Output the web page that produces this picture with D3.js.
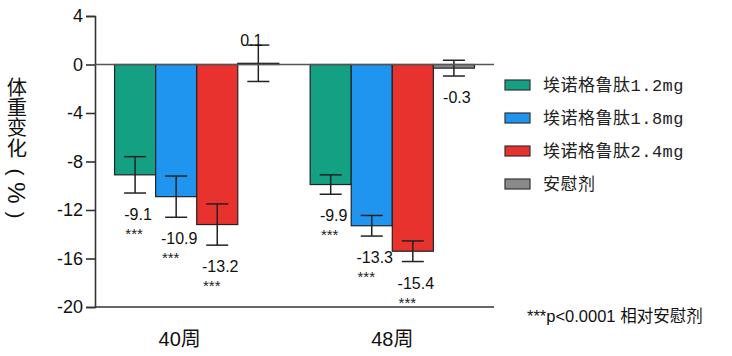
<!DOCTYPE html>
<html>
<head>
<meta charset="utf-8">
<script src="https://cdn.jsdelivr.net/npm/d3@7"></script>
<style>
  body { margin: 0; background: #fff; }
  svg { display: block; }
</style>
</head>
<body>
<div id="chart"></div>
<script>
// data
let weeks = ["40周", "48周"];
let series = ["埃诺格鲁肽1.2mg", "埃诺格鲁肽1.8mg", "埃诺格鲁肽2.4mg", "安慰剂"];
let values = [
    [-9.1, -10.9, -13.2, 0.1],
    [-9.9, -13.3, -15.4, -0.3]
];
let errors = [
    [1.5, 1.7, 1.7, 1.5],
    [0.8, 0.85, 0.85, 0.65]
];
let stars = [
    ["***", "***", "***", ""],
    ["***", "***", "***", ""]
];
let yTicks = [4, 0, -4, -8, -12, -16, -20];

let palette = ["#14a083", "#1f95ef", "#e8322e", "#8a8a8a"];

// hyphen instead of d3's unicode minus
let fmt1 = v => v.toFixed(1);
let fmt0 = v => String(v);

function main() {
    let w = 732, h = 356;
    let svg = d3.select("#chart").append("svg")
        .attr("width", w)
        .attr("height", h);

    let x0 = d3.scaleBand().domain(weeks).range([95, 494])
        .paddingInner(0.16).paddingOuter(0.1);
    let x1 = d3.scaleBand().domain(series).range([0, x0.bandwidth()]).padding(0);
    let y = d3.scaleLinear().domain([-20, 4]).range([307, 16]);

    let numFont = "'Liberation Sans', Arial, sans-serif";
    let cjkFont = "'Noto Sans CJK SC', sans-serif";

    // y axis
    let yAxis = svg.append("g")
        .attr("transform", "translate(95,0)")
        .call(d3.axisLeft(y).tickValues(yTicks).tickSize(9).tickPadding(3).tickFormat(fmt0));
    yAxis.select(".domain").attr("stroke", "#333").attr("stroke-width", 1.6);
    yAxis.selectAll(".tick line").attr("stroke", "#333").attr("stroke-width", 1.6);
    yAxis.selectAll(".tick text")
        .attr("font-family", numFont)
        .attr("font-size", 18)
        .attr("fill", "#111");

    // bottom axis line
    svg.append("line")
        .attr("x1", 95).attr("x2", 494)
        .attr("y1", y(-20)).attr("y2", y(-20))
        .attr("stroke", "#333").attr("stroke-width", 1.6);

    // week labels (the first one sits a bit left of its group in the original)
    let weekShift = [-17, 0];
    svg.selectAll("text.week")
        .data(weeks)
        .enter().append("text")
        .attr("class", "week")
        .attr("x", (d, i) => x0(d) + x0.bandwidth() / 2 + weekShift[i])
        .attr("y", 346)
        .attr("text-anchor", "middle")
        .attr("font-family", numFont + ", " + cjkFont)
        .attr("font-size", 20)
        .attr("fill", "#111")
        .text(d => d);

    // bars
    let rows = [];
    weeks.forEach((wk, i) => series.forEach((s, j) => rows.push({
        week: wk, s: s, j: j, v: values[i][j], e: errors[i][j], star: stars[i][j]
    })));

    let groups = svg.selectAll("g.bar")
        .data(rows)
        .enter().append("g")
        .attr("class", "bar")
        .attr("transform", d => `translate(${x0(d.week) + x1(d.s)},0)`);

    groups.append("rect")
        .attr("x", 0)
        .attr("width", x1.bandwidth())
        .attr("y", d => Math.min(y(d.v), y(0)))
        .attr("height", d => Math.max(Math.abs(y(d.v) - y(0)), 1))
        .attr("fill", d => palette[d.j])
        .attr("stroke", "#222")
        .attr("stroke-width", 1.2);

    // zero line
    svg.append("line")
        .attr("x1", 95).attr("x2", 494)
        .attr("y1", y(0)).attr("y2", y(0))
        .attr("stroke", "#555").attr("stroke-width", 1.4);

    // error bars
    let bw = x1.bandwidth();
    let cap = 11;
    groups.append("line")
        .attr("x1", bw / 2).attr("x2", bw / 2)
        .attr("y1", d => y(d.v + d.e)).attr("y2", d => y(d.v - d.e))
        .attr("stroke", "#222").attr("stroke-width", 1.5);
    groups.append("line")
        .attr("x1", bw / 2 - cap).attr("x2", bw / 2 + cap)
        .attr("y1", d => y(d.v + d.e)).attr("y2", d => y(d.v + d.e))
        .attr("stroke", "#222").attr("stroke-width", 1.5);
    groups.append("line")
        .attr("x1", bw / 2 - cap).attr("x2", bw / 2 + cap)
        .attr("y1", d => y(d.v - d.e)).attr("y2", d => y(d.v - d.e))
        .attr("stroke", "#222").attr("stroke-width", 1.5);

    // value labels
    let labels = groups.append("text")
        .attr("x", d => d.v > 0 ? bw / 2 - 7 : bw / 2 + 3)
        .attr("y", d => d.v > 0 ? y(d.v + d.e) + 1 : y(d.v - d.e) + 27)
        .attr("text-anchor", "middle")
        .attr("font-family", numFont)
        .attr("font-size", 16)
        .attr("fill", "#111")
        .text(d => fmt1(d.v));

    labels.each(function(d) {
        if (!d.star) return;
        let tw = this.getComputedTextLength();
        d3.select(this.parentNode).append("text")
            .attr("x", bw / 2 + 3 - tw / 2 + 1)
            .attr("y", y(d.v - d.e) + 27 + 19)
            .attr("font-family", numFont)
            .attr("font-size", 15)
            .attr("fill", "#222")
            .text(d.star);
    });

    // y title: upright CJK glyphs in vertical writing, then "(%)" turned sideways
    svg.append("text")
        .attr("class", "ytitle")
        .attr("x", 17)
        .attr("y", 77)
        .style("writing-mode", "vertical-rl")
        .attr("font-family", cjkFont)
        .attr("font-size", 20.3)
        .attr("fill", "#111")
        .text("体重变化");

    let unit = svg.append("text")
        .attr("transform", "translate(17,0) rotate(90)")
        .attr("y", 0)
        .attr("dominant-baseline", "central")
        .attr("text-anchor", "middle")
        .attr("font-family", numFont)
        .attr("font-size", 21)
        .attr("fill", "#111");
    unit.append("tspan").attr("x", 172).text("(");
    unit.append("tspan").attr("x", 193).attr("font-size", 24).text("%");
    unit.append("tspan").attr("x", 215).text(")");

    // legend
    let legend = svg.selectAll("g.legend")
        .data(series)
        .enter().append("g")
        .attr("class", "legend")
        .attr("transform", (d, i) => `translate(505,${85 + i * 33})`);
    legend.append("rect")
        .attr("x", 0).attr("y", -5)
        .attr("width", 25).attr("height", 10)
        .attr("fill", (d, i) => palette[i])
        .attr("stroke", "#333")
        .attr("stroke-width", 1.2);
    legend.append("text")
        .attr("x", 38)
        .attr("y", 6)
        .attr("font-family", "'Liberation Mono', 'Noto Sans CJK SC', monospace")
        .attr("font-size", 17)
        .attr("letter-spacing", 0.5)
        .attr("fill", "#222")
        .text(d => d);

    // footnote
    svg.append("text")
        .attr("x", 527)
        .attr("y", 322)
        .attr("font-family", numFont + ", " + cjkFont)
        .attr("font-size", 16.5)
        .attr("fill", "#111")
        .text("***p<0.0001 相对安慰剂");
}

main();
</script>
</body>
</html>
